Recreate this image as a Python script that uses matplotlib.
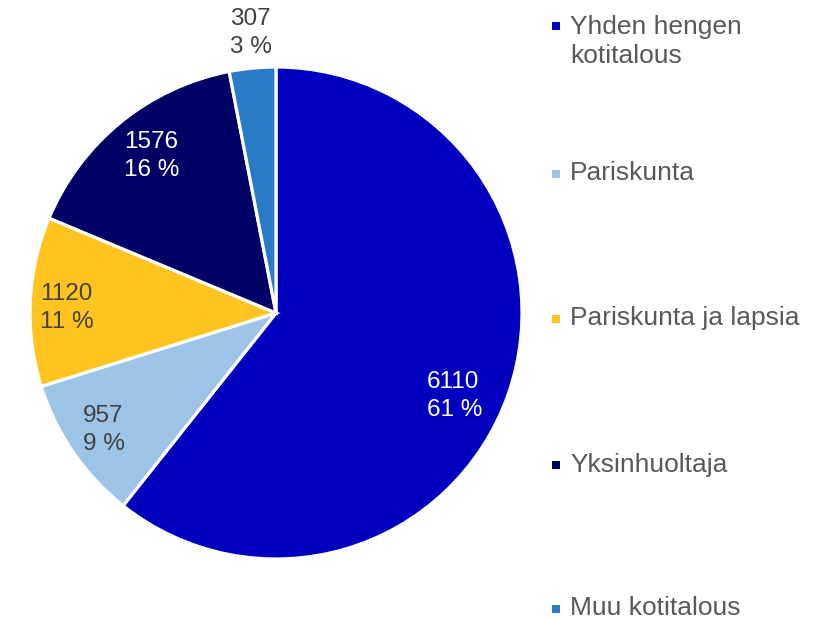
import matplotlib
matplotlib.use("Agg")
import matplotlib.pyplot as plt
from matplotlib.patches import Rectangle

plt.rcParams['font.family'] = ['Liberation Sans', 'DejaVu Sans']

categories = ["Yhden hengen\nkotitalous", "Pariskunta", "Pariskunta ja lapsia", "Yksinhuoltaja", "Muu kotitalous"]
values = [6110, 957, 1120, 1576, 307]
percents = ["61 %", "9 %", "11 %", "16 %", "3 %"]
colors = ["#0000BE", "#9DC3E6", "#FFC41F", "#000066", "#2A7BC6"]
label_colors = ["white", "#404040", "#404040", "white", "#404040"]
# label left-edge positions in data units (pie radius = 1)
label_pos = [(0.614, -0.337), (-0.785, -0.476), (-0.959, 0.02), (-0.618, 0.638), (-0.187, 1.138)]

W, H = 815, 620
fig = plt.figure(figsize=(W / 100, H / 100), dpi=100)
cx, cy, r = 276, 313, 246
ax = fig.add_axes([(cx - r) / W, (H - cy - r) / H, 2 * r / W, 2 * r / H])
ax.pie(values, colors=colors, startangle=90, counterclock=False, radius=1,
       wedgeprops=dict(edgecolor="white", linewidth=2.3))
ax.set_xlim(-1, 1)
ax.set_ylim(-1, 1)
ax.set_aspect('equal')
ax.axis('off')

for v, p, c, (x, y) in zip(values, percents, label_colors, label_pos):
    ax.text(x, y, f"{v}\n{p}", ha='left', va='center', color=c, fontsize=17.5,
            linespacing=1.35, clip_on=False)

# legend drawn manually: (marker y, text center y) in pixels from top
marker_y = [26, 174, 319, 465, 609]
text_y = [41.5, 173, 318, 465, 608]
for lab, col, my, ty in zip(categories, colors, marker_y, text_y):
    s = 8.5
    fig.add_artist(Rectangle(((556 - s / 2) / W, (H - my - s / 2) / H), s / W, s / H,
                             transform=fig.transFigure, facecolor=col, edgecolor='none'))
    fig.text(570 / W, (H - ty) / H, lab, ha='left', va='center',
             color="#595959", fontsize=19, linespacing=1.3)

fig.savefig("out.png", dpi=100)
